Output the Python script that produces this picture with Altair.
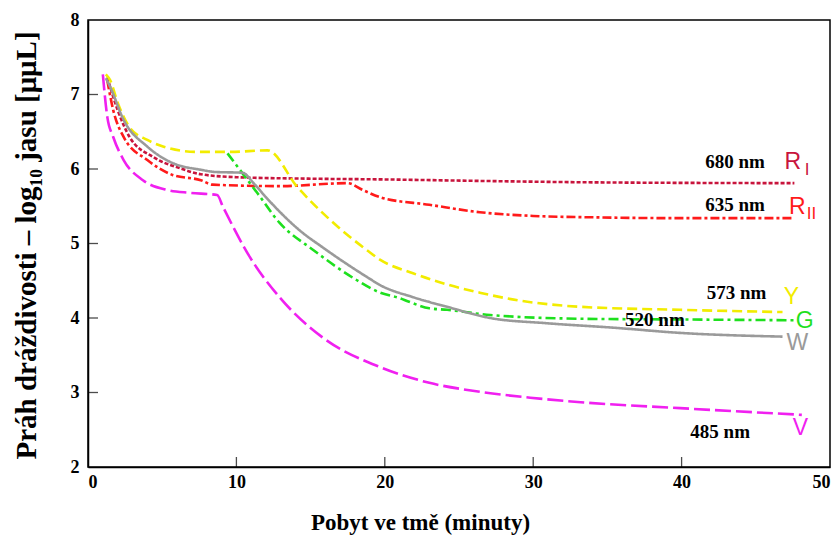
import altair as alt
import pandas as pd

# ---- data ----
ri_x = [1.3, 2.0, 2.8, 4.4, 6.2, 7.6, 10, 15, 20, 26.4, 34.5, 47.6]
ri_y = [7.23, 6.79, 6.43, 6.16, 6.01, 5.93, 5.89, 5.87, 5.86, 5.84, 5.82, 5.81]

rii_x = [1.3, 1.7, 2.4, 4.0, 5.7, 7.6, 8.4, 12.9, 17.5, 18.5, 19.7, 23.0, 26.4, 30, 34.5, 40, 47.6]
rii_y = [7.19, 6.79, 6.43, 6.12, 5.92, 5.85, 5.79, 5.77, 5.81, 5.72, 5.62, 5.52, 5.42, 5.37, 5.35, 5.34, 5.34]

y_x = [1.2, 1.5, 2.0, 2.8, 4.0, 5.1, 7.3, 9.6, 12.1, 14.1, 16.3, 18.8, 19.7, 21.9, 24.2, 26.4, 28.6, 33.2, 39.9, 46.8]
y_y = [7.27, 7.19, 6.89, 6.56, 6.39, 6.30, 6.23, 6.23, 6.25, 5.76, 5.32, 4.91, 4.78, 4.60, 4.45, 4.34, 4.25, 4.15, 4.11, 4.08]

g_x = [9.4, 11.4, 12.9, 15.2, 18.1, 19.7, 20.8, 23.0, 24.2, 27.1, 33.2, 40.0, 47.6]
g_y = [6.21, 5.68, 5.28, 4.91, 4.51, 4.34, 4.28, 4.13, 4.11, 4.04, 3.99, 3.98, 3.97]

w_x = [1.2, 1.5, 2.4, 4.0, 5.7, 7.6, 8.6, 10.4, 11.2, 12.0, 12.9, 14.3, 15.8, 18.8, 19.7, 21.9, 24.2, 27.1, 30.9, 35.4, 39.9, 46.8]
w_y = [7.22, 7.10, 6.66, 6.30, 6.08, 5.99, 5.96, 5.95, 5.80, 5.62, 5.43, 5.17, 4.95, 4.55, 4.44, 4.28, 4.15, 4.00, 3.93, 3.87, 3.80, 3.75]

v_x = [1.0, 1.3, 1.7, 2.4, 3.7, 5.3, 6.9, 8.7, 9.1, 10.9, 12.9, 15.8, 19.7, 23.0, 26.4, 29.8, 33.2, 39.9, 48.1]
v_y = [7.27, 6.70, 6.43, 6.12, 5.85, 5.72, 5.68, 5.65, 5.49, 4.82, 4.28, 3.74, 3.34, 3.13, 3.01, 2.93, 2.87, 2.79, 2.70]

series_names = ["RI", "RII", "Y", "G", "W", "V"]
series_colors = ["#C8143C", "#FF1A1A", "#F2EC00", "#1EE01E", "#9A9A9A", "#F020F0"]
series_dashes = [[4, 2], [9, 3, 3, 3], [10, 5], [10, 4, 3, 4], [1, 0], [16, 5]]

# annotation texts
nm_text = ["680 nm", "635 nm", "573 nm", "520 nm", "485 nm"]
nm_x = [43.6, 43.6, 43.7, 38.2, 42.6]
nm_y = [6.09, 5.52, 4.34, 3.97, 2.47]

let_text = ["R", "R", "Y", "G", "W", "V"]
let_series = ["RI", "RII", "Y", "G", "W", "V"]
let_x = [47.5, 47.8, 47.4, 48.3, 47.8, 48.0]
let_y = [6.09, 5.49, 4.28, 3.96, 3.66, 2.52]

sub_text = ["I", "II"]
sub_series = ["RI", "RII"]
sub_x = [48.45, 48.75]
sub_y = [5.99, 5.40]

x_ticks = [10, 20, 30, 40]
y_ticks = [3, 4, 5, 6, 7]

# ---- build tables ----
rows = []
for name, xs, ys in [("RI", ri_x, ri_y), ("RII", rii_x, rii_y), ("Y", y_x, y_y),
                     ("G", g_x, g_y), ("W", w_x, w_y), ("V", v_x, v_y)]:
    for a, b in zip(xs, ys):
        rows.append({"s": name, "t": a, "v": b})
df = pd.DataFrame(rows)

nm_df = pd.DataFrame({"txt": nm_text, "t": nm_x, "v": nm_y})
let_df = pd.DataFrame({"txt": let_text, "s": let_series, "t": let_x, "v": let_y})
sub_df = pd.DataFrame({"txt": sub_text, "s": sub_series, "t": sub_x, "v": sub_y})
xt_df = pd.DataFrame({"t": x_ticks})
yt_df = pd.DataFrame({"v": y_ticks})

serif = "Liberation Serif"
sans = "Liberation Sans"

xscale = alt.Scale(domain=[0, 50], nice=False, zero=False)
yscale = alt.Scale(domain=[2, 8], nice=False, zero=False)
cscale = alt.Scale(domain=series_names, range=series_colors)
dscale = alt.Scale(domain=series_names, range=series_dashes)

x_axis = alt.Axis(values=[0, 10, 20, 30, 40, 50], format="d", ticks=False, grid=False,
                  labelFont=serif, labelFontWeight="bold", labelFontSize=18,
                  labelColor="black", labelPadding=6, domainColor="black",
                  domainWidth=1.5, title="Pobyt ve tmě (minuty)",
                  titleFont=serif, titleFontWeight="bold", titleFontSize=23,
                  titleColor="black", titleX=332, titleY=55,
                  titleBaseline="middle", titleAlign="center")
y_axis = alt.Axis(values=[2, 3, 4, 5, 6, 7, 8], format="d", ticks=False, grid=False,
                  labelFont=serif, labelFontWeight="bold", labelFontSize=18,
                  labelColor="black", labelPadding=9, domainColor="black",
                  domainWidth=1.5, title="Práh dráždivosti – log₁₀ jasu [μμL]",
                  titleFont=serif, titleFontWeight="bold", titleFontSize=29,
                  titleColor="black", titleX=-62, titleY=225, titleAngle=270,
                  titleBaseline="middle", titleAlign="center")

lines = alt.Chart(df).mark_line(strokeWidth=2.6, interpolate="monotone").encode(
    x=alt.X("t:Q", scale=xscale, axis=x_axis),
    y=alt.Y("v:Q", scale=yscale, axis=y_axis),
    color=alt.Color("s:N", scale=cscale, legend=None),
    strokeDash=alt.StrokeDash("s:N", scale=dscale, legend=None),
    order=alt.Order("t:Q"),
    detail="s:N",
)

nm_labels = alt.Chart(nm_df).mark_text(font=serif, fontWeight="bold", fontSize=19,
                                       color="black", align="center", baseline="middle").encode(
    x=alt.X("t:Q", scale=xscale), y=alt.Y("v:Q", scale=yscale), text="txt:N")

let_labels = alt.Chart(let_df).mark_text(font=sans, fontSize=23, align="center",
                                         baseline="middle").encode(
    x=alt.X("t:Q", scale=xscale), y=alt.Y("v:Q", scale=yscale), text="txt:N",
    color=alt.Color("s:N", scale=cscale, legend=None))

sub_labels = alt.Chart(sub_df).mark_text(font=sans, fontSize=17, align="center",
                                         baseline="middle").encode(
    x=alt.X("t:Q", scale=xscale), y=alt.Y("v:Q", scale=yscale), text="txt:N",
    color=alt.Color("s:N", scale=cscale, legend=None))

xticks = alt.Chart(xt_df).mark_tick(orient="vertical", color="black", size=10,
                                    thickness=1.3, yOffset=-5).encode(
    x=alt.X("t:Q", scale=xscale), y=alt.datum(2, scale=yscale))
yticks = alt.Chart(yt_df).mark_tick(orient="horizontal", color="black", size=10,
                                    thickness=1.3, xOffset=5).encode(
    y=alt.Y("v:Q", scale=yscale), x=alt.datum(0, scale=xscale))

chart = alt.layer(lines, xticks, yticks, nm_labels, let_labels, sub_labels).properties(
    width=742, height=447,
    autosize=alt.AutoSizeParams(type="none"),
    padding={"left": 88, "top": 20, "right": 8, "bottom": 72},
    background="white",
).configure_view(stroke="black", strokeWidth=1.5)

chart.save("out.html", embed_options={"renderer": "svg", "actions": False})
